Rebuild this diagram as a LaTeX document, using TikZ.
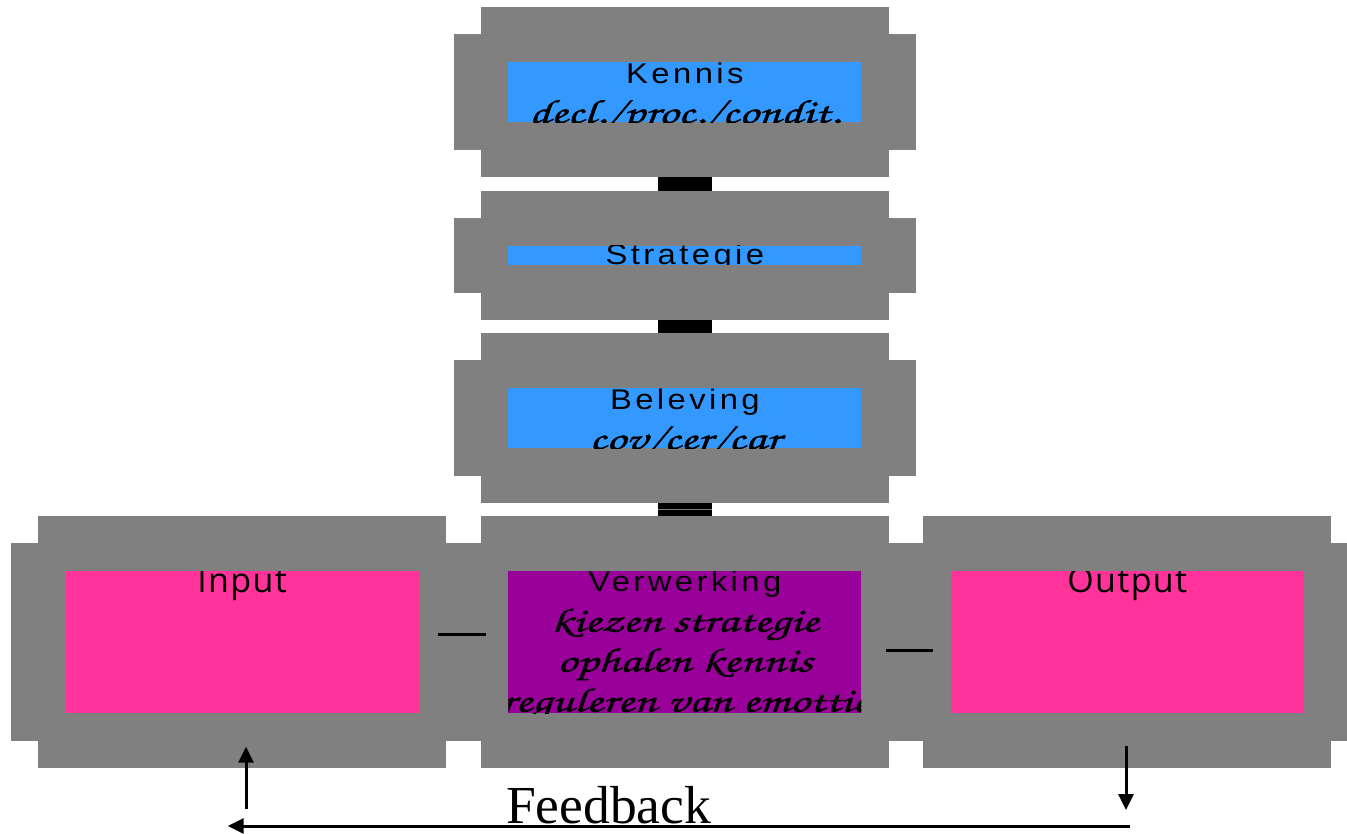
\documentclass[tikz,border=0pt]{standalone}
\usepackage{fontspec}
\usetikzlibrary{calc,arrows.meta}
\setmainfont{Liberation Sans}
\newfontfamily\lblfont[LetterSpace=12,FakeStretch=1.15]{Liberation Sans}
\newfontfamily\iofont[LetterSpace=4]{Open Sans}
\newfontfamily\handfont[FakeStretch=1.44,FakeBold=1.2]{TeX Gyre Chorus}
\newfontfamily\fbfont{Liberation Serif}
\definecolor{boxgray}{HTML}{808080}
\definecolor{kblue}{HTML}{3399FF}
\definecolor{kpink}{HTML}{FF3399}
\definecolor{kpurple}{HTML}{990099}
\newcommand{\sidebar}[1]{\fill[boxgray] ($(#1.north west)+(-27.5,27)$) rectangle ($(#1.south east)+(27.5,-27)$);}
\begin{document}
\begin{tikzpicture}[x=1pt,y=-1pt,
  frame/.style={fill=boxgray, draw=none, inner sep=0pt, outer sep=0pt, minimum width=407.7pt},
  innerbox/.style={draw=none, inner sep=0pt, outer sep=0pt, minimum width=353.1pt},
  lbl/.style={anchor=base, inner sep=0pt, font=\lblfont\fontsize{28.5}{40}\selectfont},
  iolbl/.style={anchor=base, inner sep=0pt, font=\iofont\fontsize{34}{40}\selectfont},
  hand/.style={anchor=base, inner sep=0pt, font=\handfont\fontsize{34}{40}\selectfont},
  bar/.style={line width=54.6pt, black},
  conn/.style={line width=3pt, black},
  arr/.style={line width=3pt, black, -{Triangle[length=16pt,width=15pt]}}]
\useasboundingbox (0,0) rectangle (1347,833);

% Kennis
\node[frame, minimum height=170pt] (kennis) at (684.85,92) {};
\sidebar{kennis}
\node[innerbox, fill=kblue, minimum height=60pt] (kennisin) at (kennis.center) {};
\begin{scope}
\clip (kennisin.north west) rectangle (kennisin.south east);
\node[lbl] (kennist) at (684.85,83.3) {Kennis};
\node[hand] (kennissub) at (684.85,123.3) {decl./proc./condit.};
\end{scope}

% Strategie
\node[frame, minimum height=129pt] (strategie) at (684.85,255.2) {};
\sidebar{strategie}
\node[innerbox, fill=kblue, minimum height=19pt] (strategiein) at (strategie.center) {};
\begin{scope}
\clip (strategiein.north west) rectangle (strategiein.south east);
\node[lbl] (strategiet) at (684.85,264.5) {Strategie};
\end{scope}

% Beleving
\node[frame, minimum height=170.3pt] (beleving) at (684.85,417.85) {};
\sidebar{beleving}
\node[innerbox, fill=kblue, minimum height=60.3pt] (belevingin) at (beleving.center) {};
\begin{scope}
\clip (belevingin.north west) rectangle (belevingin.south east);
\node[lbl] (belevingt) at (684.85,409.3) {Beleving};
\node[hand] (belevingsub) at (684.85,449.5) {cov/cer/car};
\end{scope}

% Input
\node[frame, minimum height=252.3pt] (input) at (242.15,642.15) {};
\sidebar{input}
\node[innerbox, fill=kpink, minimum height=142.3pt] (inputin) at (input.center) {};
\begin{scope}
\clip (inputin.north west) rectangle (inputin.south east);
\node[iolbl] (inputt) at (242.15,592.5) {Input};
\end{scope}

% Verwerking
\node[frame, minimum height=252.3pt] (verwerking) at (684.85,642.15) {};
\sidebar{verwerking}
\node[innerbox, fill=kpurple, minimum height=142.3pt] (verwerkingin) at (verwerking.center) {};
\begin{scope}
\clip (verwerkingin.north west) rectangle (verwerkingin.south east);
\node[lbl] (verwerkingt) at (684.85,591.7) {Verwerking};
\node[hand] (verw1) at (684.85,631.7) {kiezen strategie};
\node[hand] (verw2) at (684.85,671.7) {ophalen kennis};
\node[hand] (verw3) at (684.85,711.7) {reguleren van emottie};
\end{scope}

% Output
\node[frame, minimum height=252.3pt] (output) at (1127.3,642.15) {};
\sidebar{output}
\node[innerbox, fill=kpink, minimum height=142.3pt] (outputin) at (output.center) {};
\begin{scope}
\clip (outputin.north west) rectangle (outputin.south east);
\node[iolbl] (outputt) at (1127.3,592.5) {Output};
\end{scope}

% vertical bars
\draw[bar] (kennis.south) -- (strategie.north);
\draw[bar] (strategie.south) -- (beleving.north);
\draw[bar] (beleving.south) -- (verwerking.north);
\draw[boxgray, line width=1pt] ($(beleving.south)!0.5!(verwerking.north)+(-27.3,0)$) -- ++(54.6,0);

% horizontal connectors
\coordinate (iva) at (437.7,634.3);
\coordinate (ivb) at (485.7,634.3);
\coordinate (voa) at (886,650);
\coordinate (vob) at (933.3,650);
\draw[conn] (iva) -- (ivb);
\draw[conn] (voa) -- (vob);

% feedback loop
\coordinate (outtop) at (1126,746);
\coordinate (outbot) at (1126,810);
\coordinate (fbright) at (1130,826);
\coordinate (fbleft) at (227.7,826);
\coordinate (inbot) at (246,809);
\coordinate (intop) at (246,746.7);
\draw[arr] (outtop) -- (outbot);
\draw[arr] (fbright) -- (fbleft);
\draw[arr] (inbot) -- (intop);
\node[anchor=base west, inner sep=0pt, font=\fbfont\fontsize{53.5}{60}\selectfont] (fb) at (506,823) {Feedback};
\end{tikzpicture}
\end{document}
